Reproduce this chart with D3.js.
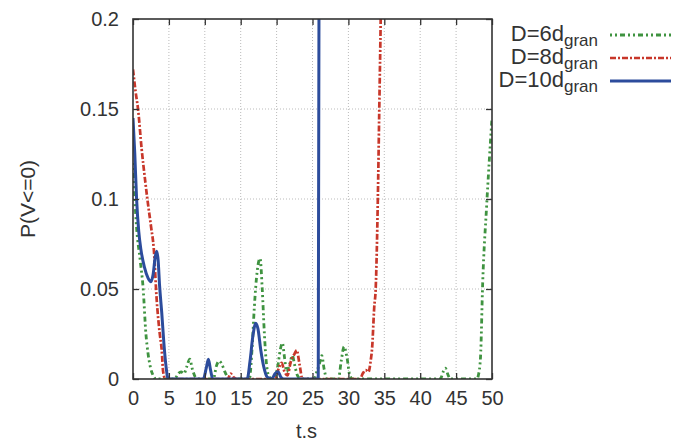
<!DOCTYPE html>
<html>
<head>
<meta charset="utf-8">
<script src="https://cdn.jsdelivr.net/npm/d3@7"></script>
<style>
    body { margin: 0; background: #fff; }
    text { font-family: "Liberation Sans", Arial, sans-serif; fill: #333; }
</style>
</head>
<body>
<div id="chart"></div>
<script>
'use strict';

// D=6d_gran
const t6 = [0, 0.25, 0.5, 1, 1.4, 1.8, 2.1, 2.4, 2.8, 3.2, 5.8, 6.3, 6.7, 7.1, 7.5, 7.9, 8.3, 8.7, 9.2,
    11.2, 11.6, 12, 12.4, 12.8, 13.2, 13.6, 16.2, 16.6, 16.9, 17.3, 17.7, 18.0, 18.3, 18.6, 19, 19.6,
    20.2, 20.5, 20.8, 21.1, 21.4, 21.8, 22.2, 22.5, 22.9, 23.4, 25.2, 25.6, 26, 26.3, 26.6, 27,
    28.6, 29, 29.4, 29.8, 30.2, 30.6, 42.8, 43.2, 43.5, 43.9, 44.2, 47.9, 48.1, 48.4, 48.7, 49.25, 49.6, 50];
const p6 = [0.12, 0.1, 0.084, 0.066, 0.051, 0.025, 0.014, 0.007, 0.002, 0, 0, 0.003, 0.004, 0.003, 0.007, 0.011, 0.005, 0.001, 0,
    0, 0.007, 0.01, 0.008, 0.004, 0.001, 0, 0, 0.018, 0.04, 0.06, 0.067, 0.05, 0.025, 0.008, 0.001, 0,
    0.008, 0.016, 0.02, 0.012, 0.004, 0.008, 0.013, 0.008, 0.002, 0, 0, 0.004, 0.009, 0.013, 0.006, 0,
    0, 0.01, 0.018, 0.012, 0.002, 0, 0, 0.004, 0.006, 0.002, 0, 0, 0.002, 0.012, 0.053, 0.096, 0.12, 0.145];

// D=8d_gran
const t8 = [0, 0.35, 0.7, 1.2, 1.7, 2.0, 2.5, 2.9, 3.3, 3.7, 4.0, 4.2, 4.5, 13.2, 13.6, 14, 14.5,
    19.8, 20.3, 20.7, 21.1, 21.5, 22, 22.5, 22.8, 23.2, 23.6, 31.6, 32, 32.4, 32.8, 33.1, 33.3, 33.6,
    33.8, 34.1, 34.3, 34.5, 34.7, 35];
const p8 = [0.172, 0.16, 0.15, 0.128, 0.11, 0.1, 0.085, 0.072, 0.044, 0.026, 0.016, 0.004, 0, 0, 0.003, 0.001, 0,
    0, 0.006, 0.009, 0.004, 0.002, 0.01, 0.014, 0.016, 0.008, 0, 0, 0.003, 0.005, 0.004, 0.01, 0.017, 0.04,
    0.05, 0.1, 0.15, 0.2, 0.26, 0.3];

// D=10d_gran
const t10 = [0, 0.25, 0.5, 0.8, 1.1, 1.6, 2.1, 2.5, 2.8, 3.1, 3.3, 3.5, 3.7, 4.0, 4.3, 4.6, 4.9,
    9.8, 10.2, 10.5, 10.8, 11.1, 15.9, 16.3, 16.7, 17.1, 17.4, 17.8, 18.2, 18.7, 19.3, 19.8, 20.2, 20.6, 21,
    25.8, 26.0];
const p10 = [0.145, 0.125, 0.1, 0.082, 0.072, 0.062, 0.056, 0.054, 0.058, 0.068, 0.071, 0.066, 0.052, 0.037, 0.02, 0.007, 0,
    0, 0.006, 0.011, 0.005, 0, 0, 0.01, 0.024, 0.031, 0.028, 0.016, 0.007, 0.001, 0, 0.003, 0.004, 0.001, 0,
    0, 0.4];

const xTicks = [0, 5, 10, 15, 20, 25, 30, 35, 40, 45, 50];
const yTicks = [0, 0.05, 0.1, 0.15, 0.2];
const yTickLabels = ['0', '0.05', '0.1', '0.15', '0.2'];

const series = [
    {name: 'D=6d', sub: 'gran', t: t6, p: p6, color: '#3f9340', width: 2.8, dash: '2,3,2,3,5,3'},
    {name: 'D=8d', sub: 'gran', t: t8, p: p8, color: '#c8372a', width: 2.7, dash: '6,2,2,2'},
    {name: 'D=10d', sub: 'gran', t: t10, p: p10, color: '#2c4c9c', width: 3, dash: null}
];

let margin = {top: 19, right: 196, bottom: 66, left: 133};
let totalW = 688, totalH = 445;
let width = totalW - margin.left - margin.right;
let height = totalH - margin.top - margin.bottom;

let svg = d3.select('#chart').append('svg')
    .attr('width', totalW)
    .attr('height', totalH);

let g = svg.append('g')
    .attr('transform', 'translate(' + margin.left + ',' + margin.top + ')');

let x = d3.scaleLinear().domain([0, 50]).range([0, width]);
let y = d3.scaleLinear().domain([0, 0.2]).range([height, 0]);

// grid
g.selectAll('.vgrid').data(xTicks.slice(1, -1)).enter()
    .append('line')
    .attr('x1', d => x(d)).attr('x2', d => x(d))
    .attr('y1', 0).attr('y2', height)
    .attr('stroke', '#bbb').attr('stroke-width', 1).attr('stroke-dasharray', '1,2');

g.selectAll('.hgrid').data(yTicks.slice(1, -1)).enter()
    .append('line')
    .attr('x1', 0).attr('x2', width)
    .attr('y1', d => y(d)).attr('y2', d => y(d))
    .attr('stroke', '#bbb').attr('stroke-width', 1).attr('stroke-dasharray', '1,2');

g.append('clipPath').attr('id', 'clip')
    .append('rect').attr('width', width).attr('height', height);

let line = d3.line()
    .x(d => x(d[0]))
    .y(d => y(d[1]))
    .curve(d3.curveMonotoneX);

let plot = g.append('g').attr('clip-path', 'url(#clip)');
series.forEach(function (s) {
    let pts = s.t.map((t, i) => [t, s.p[i]]);
    plot.append('path')
        .datum(pts)
        .attr('d', line)
        .attr('fill', 'none')
        .attr('stroke', s.color)
        .attr('stroke-width', s.width)
        .attr('stroke-dasharray', s.dash);
});

// axes, ticks mirrored on all sides and pointing inward
let tickStyle = function (sel) {
    sel.select('.domain').remove();
    sel.selectAll('.tick line').attr('stroke', '#333').attr('stroke-width', 1.3);
    sel.selectAll('.tick text').style('font-size', '20px').attr('fill', '#333');
};

g.append('g')
    .attr('transform', 'translate(0,' + height + ')')
    .call(d3.axisBottom(x).tickValues(xTicks).tickSizeInner(-6).tickPadding(12).tickFormat(d3.format('d')))
    .call(tickStyle);

g.append('g')
    .call(d3.axisTop(x).tickValues(xTicks).tickSizeInner(-6).tickFormat(''))
    .call(tickStyle);

g.append('g')
    .call(d3.axisLeft(y).tickValues(yTicks).tickSizeInner(-6).tickPadding(14)
        .tickFormat((d, i) => yTickLabels[i]))
    .call(tickStyle);

g.append('g')
    .attr('transform', 'translate(' + width + ',0)')
    .call(d3.axisRight(y).tickValues(yTicks).tickSizeInner(-6).tickFormat(''))
    .call(tickStyle);

g.append('rect')
    .attr('width', width).attr('height', height)
    .attr('fill', 'none').attr('stroke', '#333').attr('stroke-width', 1.6);

// axis titles
svg.append('text')
    .attr('x', margin.left + width / 2 - 6)
    .attr('y', 438)
    .attr('text-anchor', 'middle')
    .style('font-size', '20px')
    .text('t.s');

svg.append('text')
    .attr('transform', 'translate(35,' + (margin.top + height / 2) + ') rotate(-90)')
    .attr('text-anchor', 'middle')
    .style('font-size', '21px')
    .text('P(V<=0)');

// legend
let legend = svg.append('g');
series.forEach(function (s, i) {
    let ly = 35 + i * 23;
    let txt = legend.append('text')
        .attr('x', 598)
        .attr('y', ly + 6)
        .attr('text-anchor', 'end')
        .style('font-size', '22px');
    txt.append('tspan').text(s.name);
    txt.append('tspan').attr('dy', 5).style('font-size', '17px').text(s.sub);

    legend.append('line')
        .attr('x1', 610).attr('x2', 671)
        .attr('y1', ly).attr('y2', ly)
        .attr('stroke', s.color)
        .attr('stroke-width', s.width)
        .attr('stroke-dasharray', s.dash);
});
</script>
</body>
</html>
